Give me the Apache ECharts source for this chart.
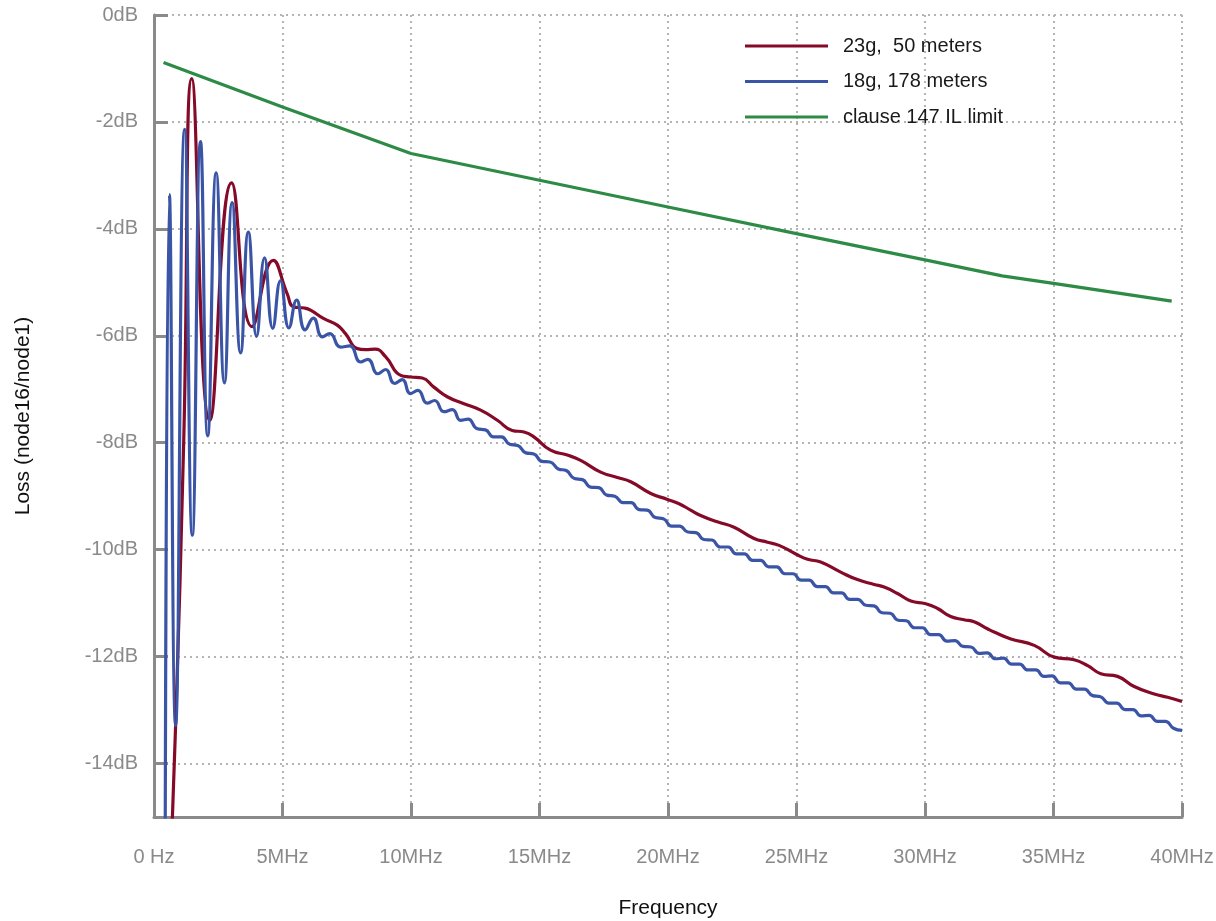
<!DOCTYPE html>
<html>
<head>
<meta charset="utf-8">
<script src="https://cdn.jsdelivr.net/npm/echarts@6/dist/echarts.min.js"></script>
<style>
  html, body { margin: 0; padding: 0; background: #ffffff; }
  #chart { width: 1216px; height: 921px; }
</style>
</head>
<body>
<div id="chart"></div>
<script>
// ---- data (frequency in MHz, loss in dB) ----
const seriesNames = ['23g,  50 meters', '18g, 178 meters', 'clause 147 IL limit'];
const xTickValues = [0, 5, 10, 15, 20, 25, 30, 35, 40];
const xTickLabels = ['0 Hz', '5MHz', '10MHz', '15MHz', '20MHz', '25MHz', '30MHz', '35MHz', '40MHz'];
const yTickValues = [0, -2, -4, -6, -8, -10, -12, -14];
const yTickLabels = ['0dB', '-2dB', '-4dB', '-6dB', '-8dB', '-10dB', '-12dB', '-14dB'];

const red23g = [
  [0.60, -16.6], [0.84, -13.3], [1.16, -7.9], [1.47, -1.19], [2.17, -7.58],
  [3.02, -3.14], [3.82, -5.83], [4.64, -4.59], [5.18, -5.21], [5.44, -5.46],
  [5.85, -5.48], [6.09, -5.52], [6.61, -5.68], [7.13, -5.80], [7.45, -5.96],
  [7.91, -6.24], [8.23, -6.26], [8.60, -6.25], [9.01, -6.39], [9.60, -6.74],
  [9.98, -6.77], [10.44, -6.79], [10.89, -6.96], [11.41, -7.14], [12.06, -7.27],
  [12.71, -7.39], [13.36, -7.58], [13.94, -7.77], [14.40, -7.80], [14.78, -7.89],
  [15.43, -8.14], [16.08, -8.23], [16.60, -8.33], [17.38, -8.55], [18.03, -8.65],
  [18.55, -8.73], [19.33, -8.95], [19.98, -9.06], [20.43, -9.14], [20.88, -9.26],
  [21.27, -9.36], [21.92, -9.48], [22.57, -9.58], [23.35, -9.79], [23.87, -9.86],
  [24.32, -9.92], [24.97, -10.08], [25.43, -10.18], [25.94, -10.23], [26.72, -10.42],
  [27.37, -10.56], [28.02, -10.65], [28.41, -10.70], [28.93, -10.82], [29.45, -10.96],
  [30.03, -11.01], [30.49, -11.10], [31.00, -11.25], [31.52, -11.31], [31.91, -11.35],
  [32.43, -11.48], [32.69, -11.54], [33.34, -11.67], [34.25, -11.79], [35.03, -12.01],
  [35.80, -12.06], [36.33, -12.17], [36.84, -12.32], [37.49, -12.37], [38.14, -12.56],
  [38.92, -12.70], [39.44, -12.76], [40.00, -12.84]
];

const blue18g = [
  [0.43, -16.9], [0.60, -3.36], [0.84, -13.29], [1.19, -2.14], [1.49, -9.73],
  [1.81, -2.37], [2.09, -7.87], [2.42, -2.95], [2.74, -6.88], [3.04, -3.51],
  [3.37, -6.32], [3.67, -4.06], [3.99, -6.01], [4.30, -4.54], [4.62, -5.86],
  [4.92, -4.97], [5.25, -5.85], [5.55, -5.33], [5.88, -5.89], [6.20, -5.67],
  [6.55, -6.02], [6.84, -5.96], [7.26, -6.21], [7.62, -6.19], [8.04, -6.49],
  [8.32, -6.44], [8.71, -6.71], [9.01, -6.63], [9.36, -6.89], [9.66, -6.82],
  [9.98, -7.08], [10.27, -7.02], [10.63, -7.26], [10.92, -7.21], [11.28, -7.42],
  [11.61, -7.38], [11.93, -7.58], [12.22, -7.56], [12.58, -7.74], [12.90, -7.76],
  [13.21, -7.89], [13.52, -7.89], [13.84, -8.03], [14.15, -8.05], [14.47, -8.19],
  [14.78, -8.21], [15.10, -8.35], [15.41, -8.36], [15.73, -8.49], [16.04, -8.52],
  [16.36, -8.67], [16.67, -8.69], [16.99, -8.83], [17.30, -8.84], [17.62, -8.98],
  [17.93, -9.00], [18.25, -9.12], [18.56, -9.12], [18.88, -9.25], [19.19, -9.26],
  [19.51, -9.40], [19.82, -9.42], [20.14, -9.56], [20.45, -9.56], [20.77, -9.67],
  [21.08, -9.68], [21.40, -9.81], [21.71, -9.82], [22.03, -9.95], [22.34, -9.95],
  [22.66, -10.08], [22.97, -10.08], [23.29, -10.20], [23.60, -10.20], [23.92, -10.32],
  [24.23, -10.32], [24.55, -10.45], [24.86, -10.45], [25.18, -10.57], [25.49, -10.57],
  [25.81, -10.69], [26.12, -10.69], [26.44, -10.81], [26.75, -10.81], [27.07, -10.93],
  [27.38, -10.93], [27.70, -11.04], [28.01, -11.05], [28.33, -11.18], [28.64, -11.19],
  [28.96, -11.32], [29.27, -11.33], [29.59, -11.46], [29.90, -11.46], [30.22, -11.59],
  [30.53, -11.59], [30.85, -11.71], [31.16, -11.70], [31.48, -11.81], [31.79, -11.82],
  [32.11, -11.94], [32.42, -11.93], [32.74, -12.04], [33.05, -12.03], [33.37, -12.14],
  [33.68, -12.14], [34.00, -12.25], [34.31, -12.25], [34.63, -12.37], [34.94, -12.36],
  [35.26, -12.49], [35.57, -12.49], [35.89, -12.61], [36.20, -12.61], [36.52, -12.73],
  [36.83, -12.75], [37.15, -12.87], [37.46, -12.87], [37.78, -12.99], [38.09, -12.99],
  [38.41, -13.11], [38.72, -13.10], [39.04, -13.21], [39.35, -13.21], [39.67, -13.34],
  [40.00, -13.38]
];

const limit147 = [
  [0.37, -0.89], [5, -1.72], [10, -2.59], [15, -3.09], [20, -3.59],
  [25, -4.09], [30, -4.58], [33, -4.88], [35, -5.02], [39.6, -5.35]
];

const colors = ['#850a27', '#3b55a6', '#2e8b46'];
const FONT = 'Liberation Sans, Arial, Helvetica, sans-serif';

const chart = echarts.init(document.getElementById('chart'), null, { renderer: 'canvas' });

const axisGray = '#8a8a8a';
const gridDots = { show: true, lineStyle: { color: '#b4b4b4', width: 2, type: [2, 4] } };

chart.setOption({
  backgroundColor: '#ffffff',
  animation: false,
  color: colors,
  textStyle: { fontFamily: FONT },
  grid: { left: 154, right: 34, top: 15, bottom: 104, containLabel: false, outerBoundsMode: 'none' },
  legend: {
    orient: 'vertical',
    left: 745,
    top: 34,
    padding: 0,
    itemGap: 11.5,
    itemWidth: 83,
    itemHeight: 3,
    icon: 'rect',
    data: seriesNames,
    textStyle: { fontSize: 20, color: '#1a1a1a', fontFamily: FONT, lineHeight: 24, padding: [0, 0, 0, 10] }
  },
  xAxis: {
    type: 'value',
    min: 0,
    max: 40,
    interval: 5,
    name: 'Frequency',
    nameLocation: 'middle',
    nameGap: 81,
    nameTextStyle: { fontSize: 21, color: '#111', fontFamily: FONT },
    axisLine: { show: true, onZero: false, lineStyle: { color: axisGray, width: 3 } },
    axisTick: { show: true, inside: true, length: 14, lineStyle: { color: axisGray, width: 3 } },
    axisLabel: {
      margin: 30,
      fontSize: 20,
      color: '#8a8a8a',
      fontFamily: FONT,
      showMinLabel: true,
      showMaxLabel: true,
      formatter: function (v) {
        const i = xTickValues.indexOf(v);
        return i >= 0 ? xTickLabels[i] : '';
      }
    },
    splitLine: gridDots
  },
  yAxis: {
    type: 'value',
    min: -15,
    max: 0,
    name: 'Loss (node16/node1)',
    nameLocation: 'middle',
    nameGap: 120,
    nameTextStyle: { fontSize: 21, color: '#111', fontFamily: FONT },
    axisLine: { show: true, onZero: false, lineStyle: { color: axisGray, width: 3 } },
    axisTick: { show: true, inside: true, length: 14, customValues: yTickValues, lineStyle: { color: axisGray, width: 3 } },
    axisLabel: {
      margin: 16,
      fontSize: 20,
      color: '#8a8a8a',
      fontFamily: FONT,
      customValues: yTickValues,
      formatter: function (v) {
        const i = yTickValues.indexOf(v);
        return i >= 0 ? yTickLabels[i] : '';
      }
    },
    splitLine: gridDots
  },
  series: [
    {
      name: seriesNames[0], type: 'line', data: red23g, symbol: 'none', smooth: 0.5, clip: true,
      lineStyle: { width: 3.2, color: colors[0] }, itemStyle: { color: colors[0] }, z: 3
    },
    {
      name: seriesNames[1], type: 'line', data: blue18g, symbol: 'none', smooth: 0.5, clip: true,
      lineStyle: { width: 3.2, color: colors[1] }, itemStyle: { color: colors[1] }, z: 4
    },
    {
      name: seriesNames[2], type: 'line', data: limit147, symbol: 'none', smooth: false, clip: true,
      lineStyle: { width: 3.2, color: colors[2] }, itemStyle: { color: colors[2] }, z: 5
    }
  ]
});
</script>
</body>
</html>
